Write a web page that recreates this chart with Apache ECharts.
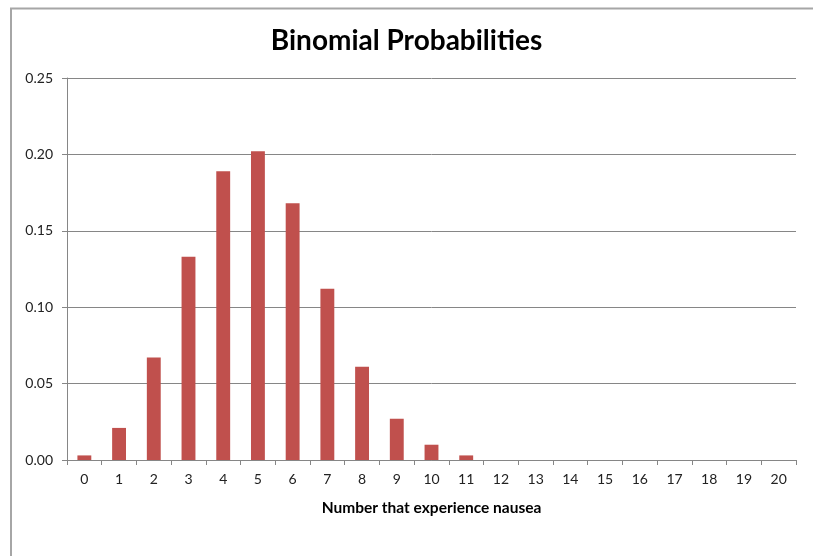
<!DOCTYPE html>
<html>
<head>
<meta charset="utf-8">
<script src="https://cdn.jsdelivr.net/npm/echarts@6/dist/echarts.min.js"></script>
<style>html,body{margin:0;padding:0;background:#fff}#c{width:813px;height:556px}</style>
</head>
<body>
<div id="c"></div>
<script>
const categories = ['0','1','2','3','4','5','6','7','8','9','10','11','12','13','14','15','16','17','18','19','20'];
const probabilities = [0.003, 0.021, 0.067, 0.133, 0.189, 0.202, 0.168, 0.112, 0.061, 0.027, 0.010, 0.003, 0, 0, 0, 0, 0, 0, 0, 0, 0];
const yTicks = [0, 0.05, 0.10, 0.15, 0.20, 0.25];
const titleText = 'Binomial Probabilities';
const xAxisTitle = 'Number that experience nausea';

const chart = echarts.init(document.getElementById('c'), null, {renderer: 'canvas'});
const font = 'Lato, "Open Sans", sans-serif';
chart.setOption({
  animation: false,
  backgroundColor: '#ffffff',
  title: {
    text: titleText, left: 'center', top: 22,
    textStyle: {fontFamily: font, fontSize: 28, fontWeight: 'bold', color: '#000'}
  },
  grid: {left: 67, right: 17, top: 78, bottom: 96},
  xAxis: {
    type: 'category', data: categories,
    name: xAxisTitle, nameLocation: 'middle', nameGap: 40,
    nameTextStyle: {fontFamily: font, fontSize: 15.5, fontWeight: 'bold', color: '#000'},
    axisLine: {lineStyle: {color: '#868686', width: 1}},
    axisTick: {show: true, alignWithLabel: false, length: 5, lineStyle: {color: '#868686'}},
    axisLabel: {fontFamily: font, fontSize: 14, color: '#222', margin: 12, interval: 0},
    splitLine: {show: false}
  },
  yAxis: {
    type: 'value', min: 0, max: 0.25, interval: 0.05,
    axisLine: {show: true, lineStyle: {color: '#868686'}},
    axisTick: {show: true, length: 5, inside: false, lineStyle: {color: '#868686'}},
    axisLabel: {fontFamily: font, fontSize: 14, color: '#222', margin: 14,
      formatter: v => { const t = yTicks.find(x => Math.abs(x - v) < 1e-9); return (t !== undefined ? t : v).toFixed(2); }},
    splitLine: {show: true, lineStyle: {color: '#868686', width: 1}}
  },
  series: [{
    type: 'bar', data: probabilities, barWidth: '40%',
    itemStyle: {color: '#C0504D'}
  }],
  graphic: [
    {type: 'polyline', shape: {points: [[11, 556], [11, 8.5], [813, 8.5]]}, style: {stroke: '#a6a6a6', lineWidth: 2, fill: null}, silent: true}
  ]
});
</script>
</body>
</html>
